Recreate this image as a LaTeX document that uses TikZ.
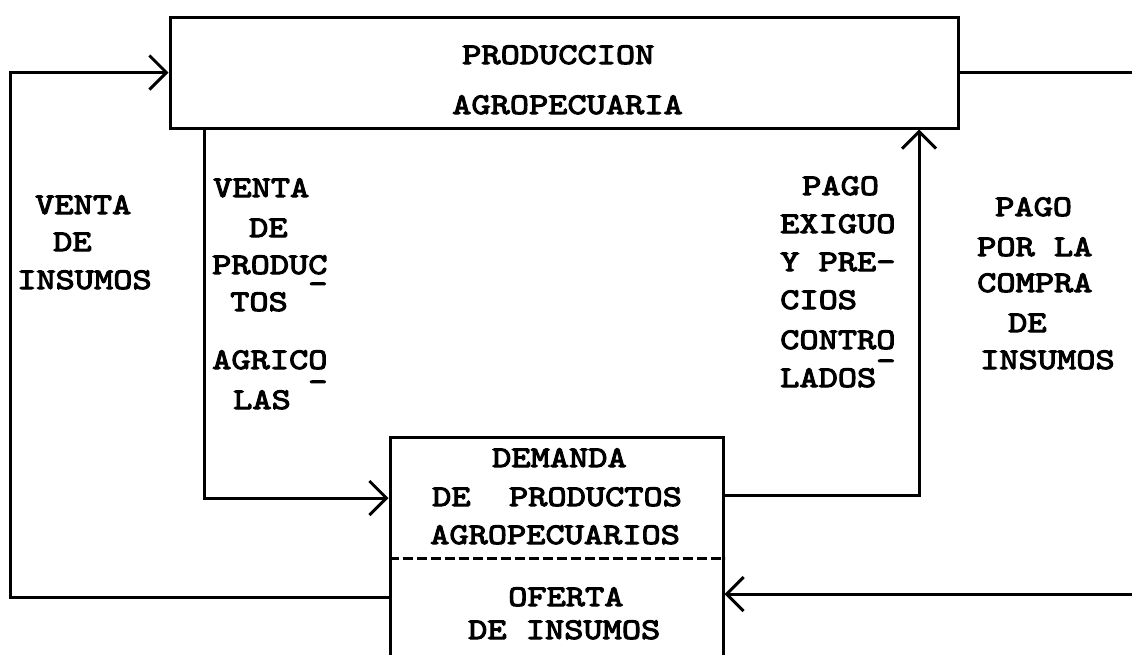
\documentclass[tikz,border=0pt]{standalone}
\usepackage{fontspec}
\newfontfamily\tw{lmmono10-regular.otf}[FakeBold=3.5,FakeStretch=1.22]
\usetikzlibrary{arrows.meta}
\tikzset{
  ln/.style={line width=3pt},
  arr/.style={ln,-{Straight Barb[length=17pt,width=34pt]}},
  box/.style={draw,line width=3pt,rectangle,inner sep=0pt},
  tt/.style={font=\fontsize{30}{36}\selectfont\tw,anchor=base west,inner sep=0pt},
}
\newcommand\lowdash[1]{\llap{\raisebox{#1}{-}}}
\begin{document}
\begin{tikzpicture}[x=1pt,y=-1pt]
\useasboundingbox (0,0) rectangle (1132,654);
\clip (0,0) rectangle (1132,654);
% boxes
\node[box,minimum width=788pt,minimum height=111pt] (prod) at (564,72.5) {};
\node[box,minimum width=333pt,minimum height=243pt] (dem) at (556.5,558.5) {};
% coordinates
\coordinate (lo) at (10,597);
\coordinate (il) at (204,498);
\coordinate (ir) at (919,495);
\coordinate (rt) at (1132,72.5);
\coordinate (rb) at (1132,594);
\coordinate (dl) at (0,558);
% connectors
\draw[arr] (dem.west |- lo) -- (lo) |- (prod.west);
\draw[arr] (prod.south -| il) -- (il) -- (dem.west |- il);
\draw[arr] (dem.east |- ir) -- (ir) -- (prod.south -| ir);
\draw[ln] (prod.east) -- (rt);
\draw[arr] (rb) -- (dem.east |- rb);
\draw[ln,dash pattern=on 10pt off 4pt] (dem.west |- dl) -- (dem.east |- dl);
% top box text
\node[tt] (t1) at (462,64) {PRODUCCION};
\node[tt] (t2) at (452,114) {AGROPECUARIA};
% outer left
\node[tt] (a1) at (35,214) {VENTA};
\node[tt] (a2) at (53,251) {DE};
\node[tt] (a3) at (17,289) {INSUMOS};
% inner left
\node[tt] (b1) at (213,197) {VENTA};
\node[tt] (b2) at (249,237) {DE};
\node[tt] (b3) at (212,274) {PRODUC\lowdash{-19pt}};
\node[tt] (b4) at (230,311) {TOS};
\node[tt] (b5) at (212,369) {AGRICO\lowdash{-22pt}};
\node[tt] (b6) at (233,409) {LAS};
% inner right
\node[tt] (c1) at (802,195) {PAGO};
\node[tt] (c2) at (780,233) {EXIGUO};
\node[tt] (c3) at (780,271) {Y PRE-};
\node[tt] (c4) at (780,309) {CIOS};
\node[tt] (c5) at (780,349) {CONTRO\lowdash{-21pt}};
\node[tt] (c6) at (780,387) {LADOS};
% outer right
\node[tt] (d1) at (995,216) {PAGO};
\node[tt] (d2) at (977,256) {POR LA};
\node[tt] (d3) at (977,292) {COMPRA};
\node[tt] (d4) at (1008,332) {DE};
\node[tt] (d5) at (980,369) {INSUMOS};
% bottom box text
\node[tt] (e1) at (492,467) {DEMANDA};
\node[tt] (e2) at (432,506) {DE\ \ PRODUCTOS};
\node[tt] (e3) at (430,544) {AGROPECUARIOS};
\node[tt] (e4) at (508,606) {OFERTA};
\node[tt] (e5) at (468,639) {DE INSUMOS};
\end{tikzpicture}
\end{document}
